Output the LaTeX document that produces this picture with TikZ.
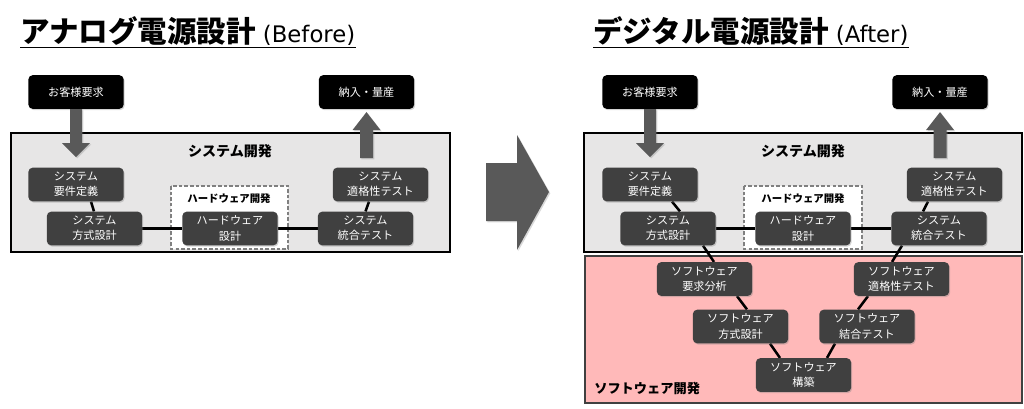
\documentclass[tikz,border=0pt]{standalone}
\usepackage{fontspec}
\setmainfont{Noto Sans CJK JP}
\newfontfamily\latinfont{DejaVu Sans}
\usepackage{tikz}
\usetikzlibrary{calc,shadows}

\definecolor{boxgray}{RGB}{64,64,64}
\definecolor{framegray}{RGB}{231,230,230}
\definecolor{arrowgray}{RGB}{89,89,89}
\definecolor{swpink}{RGB}{255,185,185}
\definecolor{dashgray}{RGB}{128,128,128}

\pgfdeclarelayer{frames}
\pgfdeclarelayer{links}
\pgfsetlayers{frames,links,main}

\tikzset{
  procbox/.style={fill=boxgray, text=white, rounded corners=3pt, align=center,
    minimum width=2.38cm, minimum height=0.84cm, inner sep=1pt,
    font=\fontsize{7.9}{10.8}\selectfont,
    drop shadow={shadow xshift=0.7pt, shadow yshift=-0.9pt, opacity=0.35}},
  endbox/.style={procbox, fill=black},
  link/.style={line width=1.8pt, black},
  blockarrow/.style={fill=arrowgray,
    drop shadow={shadow xshift=0.9pt, shadow yshift=-0.9pt, opacity=0.3}},
  sysframe/.style={fill=framegray, draw=black, line width=1.4pt},
  hwframe/.style={fill=white, draw=dashgray, line width=0.8pt, dash pattern=on 2.5pt off 1.5pt},
  swframe/.style={fill=swpink, draw=boxgray, line width=1.4pt},
  grouplabel/.style={font=\bfseries\fontsize{10}{12}\selectfont, inner sep=0pt},
  hwlabel/.style={font=\bfseries\fontsize{7.4}{9}\selectfont, inner sep=0pt},
  swlabel/.style={font=\bfseries\fontsize{9.4}{11}\selectfont, inner sep=0pt, anchor=west},
  headline/.style={anchor=base west, inner sep=0pt, font=\bfseries\fontsize{21}{24}\selectfont},
  underl/.style={line width=1.4pt, black},
}

\begin{document}
\begin{tikzpicture}[x=0.025cm, y=-0.025cm]
  \useasboundingbox (0,0) rectangle (1024,408);

  % Frames:
  \begin{pgfonlayer}{frames}
    \draw[sysframe] (11,133) rectangle (450,252);
    \draw[hwframe] (171,186) rectangle (288,249);
    \draw[sysframe] (584,133) rectangle (1022,252);
    \draw[hwframe] (744,186) rectangle (862,249);
    \draw[swframe] (585,256) rectangle (1022,403);
  \end{pgfonlayer}

  % Titles:
  \node[headline] (Ltitle) at (20,42.5) {アナログ電源設計\hspace{5pt}{\latinfont\mdseries\fontsize{16.2}{18}\selectfont (Before)}};
  \node[headline] (Rtitle) at (593,42.5) {デジタル電源設計\hspace{5pt}{\latinfont\mdseries\fontsize{16.2}{18}\selectfont (After)}};
  \draw[underl] ($(Ltitle.base west)+(0,5)$) -- ($(Ltitle.base east)+(0,5)$);
  \draw[underl] ($(Rtitle.base west)+(0,5)$) -- ($(Rtitle.base east)+(0,5)$);

  % Before:
  \node[grouplabel] (Lsyslab) at (230,151) {システム開発};
  \node[hwlabel] (Lhwlab) at (229,199) {ハードウェア開発};
  \node[endbox] (Lcust) at (76,92) {お客様要求};
  \node[endbox] (Lship) at (366.5,92) {納入・量産};
  \node[procbox] (Lsreq) at (76,184.5) {システム\\要件定義};
  \node[procbox] (Lsdes) at (94.5,228.5) {システム\\方式設計};
  \node[procbox] (Lhdes) at (230,228.5) {ハードウェア\\設計};
  \node[procbox] (Lsint) at (365.5,228.5) {システム\\統合テスト};
  \node[procbox] (Lsqual) at (380.5,184.5) {システム\\適格性テスト};

  \fill[blockarrow] ($(Lcust.south)+(-6,0)$) -- ++(12,0) -- ++(0,34) -- ++(8,0)
    -- ($(Lcust.south)+(0,48)$) -- ++(-14,-14) -- ++(8,0) -- cycle;
  \fill[blockarrow] ($(Lship.south)+(0,3)$) -- ++(14,18) -- ++(-7.5,0) -- ++(0,28)
    -- ++(-13,0) -- ++(0,-28) -- ++(-7.5,0) -- cycle;

  \begin{pgfonlayer}{links}
    \draw[link] ($(Lsreq.south)+(15,0)$) -- ($(Lsdes.north)+(-0.5,0)$);
    \draw[link] (Lsdes.east) -- (Lhdes.west);
    \draw[link] (Lhdes.east) -- (Lsint.west);
    \draw[link] (Lsint.north) -- ($(Lsqual.south)+(-11.5,0)$);
  \end{pgfonlayer}

  % Big arrow:
  \fill[blockarrow] (486,163) -- (517,163) -- (517,135) -- (549,192)
    -- (517,250) -- (517,221) -- (486,221) -- cycle;

  % After:
  \node[grouplabel] (Rsyslab) at (803,151) {システム開発};
  \node[hwlabel] (Rhwlab) at (803,199) {ハードウェア開発};
  \node[swlabel] (Rswlab) at (594,388) {ソフトウェア開発};
  \node[endbox] (Rcust) at (650,92) {お客様要求};
  \node[endbox] (Rship) at (940,92) {納入・量産};
  \node[procbox] (Rsreq) at (650,184.5) {システム\\要件定義};
  \node[procbox] (Rsdes) at (668,228.5) {システム\\方式設計};
  \node[procbox] (Rhdes) at (803,228.5) {ハードウェア\\設計};
  \node[procbox] (Rsint) at (939,228.5) {システム\\統合テスト};
  \node[procbox] (Rsqual) at (954.5,184.5) {システム\\適格性テスト};
  \node[procbox] (Rwreq) at (704.5,279) {ソフトウェア\\要求分析};
  \node[procbox] (Rwdes) at (740.5,326.5) {ソフトウェア\\方式設計};
  \node[procbox] (Rwimp) at (803.5,375) {ソフトウェア\\構築};
  \node[procbox] (Rwint) at (867,326.5) {ソフトウェア\\結合テスト};
  \node[procbox] (Rwqual) at (901.5,279) {ソフトウェア\\適格性テスト};

  \fill[blockarrow] ($(Rcust.south)+(-6,0)$) -- ++(12,0) -- ++(0,34) -- ++(8,0)
    -- ($(Rcust.south)+(0,48)$) -- ++(-14,-14) -- ++(8,0) -- cycle;
  \fill[blockarrow] ($(Rship.south)+(0,3)$) -- ++(14,18) -- ++(-7.5,0) -- ++(0,28)
    -- ++(-13,0) -- ++(0,-28) -- ++(-7.5,0) -- cycle;

  \begin{pgfonlayer}{links}
    \draw[link] ($(Rsreq.south)+(22,0)$) -- ($(Rsdes.north)+(12,0)$);
    \draw[link] (Rsdes.east) -- (Rhdes.west);
    \draw[link] (Rhdes.east) -- (Rsint.west);
    \draw[link] ($(Rsint.north)+(-16,0)$) -- ($(Rsqual.south)+(-26.5,0)$);
    \draw[link] ($(Rsdes.south)+(35,0)$) -- ($(Rwreq.north)+(9.5,0)$);
    \draw[link] ($(Rwreq.south)+(32.5,0)$) -- ($(Rwdes.north)+(6.5,0)$);
    \draw[link] ($(Rwdes.south)+(29.5,0)$) -- ($(Rwimp.north)+(-23.5,0)$);
    \draw[link] ($(Rwimp.north)+(23.5,0)$) -- ($(Rwint.south)+(-32,0)$);
    \draw[link] ($(Rwint.north)+(-9,0)$) -- ($(Rwqual.south)+(-33.5,0)$);
    \draw[link] ($(Rwqual.north)+(-9.5,0)$) -- ($(Rsint.south)+(-37,0)$);
  \end{pgfonlayer}
\end{tikzpicture}
\end{document}
